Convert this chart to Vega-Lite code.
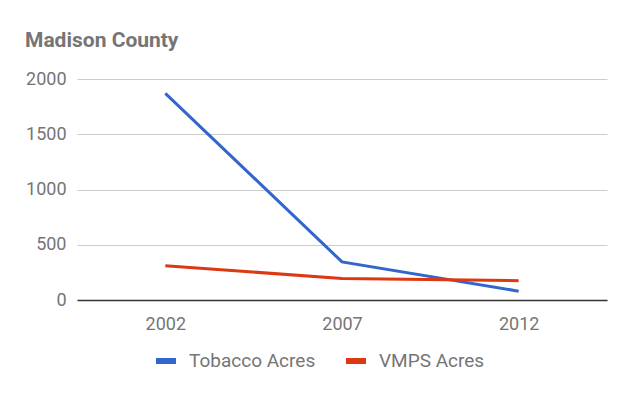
{
  "$schema": "https://vega.github.io/schema/vega-lite/v6.json",
  "width": 530,
  "height": 221,
  "autosize": {"type": "none"},
  "padding": {"left": 77, "top": 79, "right": 14, "bottom": 95},
  "background": "white",
  "title": {
    "text": "Madison County",
    "anchor": "start",
    "frame": "group",
    "dx": -52,
    "offset": 19,
    "font": "Roboto",
    "fontSize": 21,
    "fontWeight": "bold",
    "color": "#757575"
  },
  "data": {
    "values": [
      {"year": "2002", "series": "Tobacco Acres", "acres": 1870},
      {"year": "2007", "series": "Tobacco Acres", "acres": 345},
      {"year": "2012", "series": "Tobacco Acres", "acres": 80},
      {"year": "2002", "series": "VMPS Acres", "acres": 310},
      {"year": "2007", "series": "VMPS Acres", "acres": 195},
      {"year": "2012", "series": "VMPS Acres", "acres": 175}
    ]
  },
  "mark": {"type": "line", "strokeWidth": 3},
  "encoding": {
    "x": {
      "field": "year",
      "type": "ordinal",
      "scale": {"type": "point", "padding": 0.5},
      "axis": {
        "title": null,
        "labelAngle": 0,
        "ticks": false,
        "domainColor": "#333333",
        "domainWidth": 1.5,
        "labelPadding": 15,
        "grid": false
      }
    },
    "y": {
      "field": "acres",
      "type": "quantitative",
      "scale": {"domain": [0, 2000]},
      "axis": {
        "title": null,
        "values": [0, 500, 1000, 1500, 2000],
        "format": "d",
        "domain": false,
        "ticks": false,
        "labelPadding": 11,
        "gridColor": "#cccccc"
      }
    },
    "color": {
      "field": "series",
      "type": "nominal",
      "scale": {"range": ["#3366cc", "#dc3912"]},
      "legend": {
        "title": null,
        "orient": "none",
        "direction": "horizontal",
        "legendX": 76,
        "legendY": 269,
        "symbolType": "stroke",
        "symbolStrokeWidth": 6,
        "symbolSize": 400,
        "columnPadding": 18,
        "labelOffset": 10,
        "labelFontSize": 19
      }
    }
  },
  "config": {
    "view": {"stroke": null},
    "font": "Roboto",
    "axis": {"labelFont": "Roboto", "labelFontSize": 18, "labelColor": "#757575"},
    "legend": {"labelFont": "Roboto", "labelFontSize": 19, "labelColor": "#757575"}
  }
}
